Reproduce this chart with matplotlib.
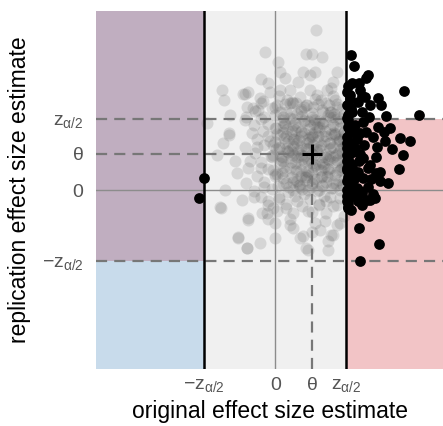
import numpy as np
import matplotlib
matplotlib.use("Agg")
import matplotlib.pyplot as plt

plt.rcParams['font.family'] = ['Liberation Sans', 'DejaVu Sans']
plt.rcParams['mathtext.fontset'] = 'custom'
plt.rcParams['mathtext.rm'] = 'Liberation Sans'
plt.rcParams['mathtext.it'] = 'Liberation Sans'

z = 1.96
theta = 1.0

# studies that were not significant in the original (grey cloud)
grey_x = [1.12, -0.28, 0.85, 1.00, 1.28, 0.08, 0.13, 0.27, 0.77, 0.96, 1.09, 1.69, 1.60,
          -0.39, -0.19, 0.63, -1.48, -1.41, -0.88, -0.74, -0.42, -0.15, -1.25, 0.13, 0.40,
          0.96, 1.42, 0.68, 1.14, 1.55, 1.64, -0.61, -0.47, -0.83, 0.31, 0.50, -0.83, -0.79,
          -1.89, -1.29, -1.43, -1.52, -0.74, -1.02, -0.79, -0.24, -0.01, 0.50, 0.77, 0.86,
          1.46, 1.23, 1.60, 1.78, -1.29, -1.61, -1.11, -1.06, -1.39, -0.93, -1.50, -0.74,
          -0.37, -1.02, -0.42, -0.79, -0.01, 0.40, 0.68, 1.00, 1.37, 1.55, 1.69, 1.46, 0.91,
          -0.05,
          -0.6, -0.5, -0.4, -0.3, -0.3, -0.2, -0.2, -0.1, 0.0, 0.0, 0.0, 0.1, 0.1, 0.2, 0.2,
          0.3, 0.3, 0.3, 0.4, 0.4, 0.4, 0.5, 0.5, 0.5, 0.6, 0.6, 0.6, 0.7, 0.7, 0.7, 0.8,
          0.8, 0.8, 0.9, 0.9, 0.9, 1.0, 1.0, 1.0, 1.0, 1.1, 1.1, 1.1, 1.2, 1.2, 1.2, 1.3,
          1.3, 1.3, 1.4, 1.4, 1.4, 1.5, 1.5, 1.5, 1.6, 1.6, 1.6, 1.7, 1.7, 1.7, 1.7, 1.8,
          1.8, 1.8, 1.8, 1.9, 1.9, 1.9, 1.9, 0.2, 0.6, 1.0, 1.4, 0.9, 1.2, -0.4, -0.7, -0.8,
          -0.6, 0.1, 1.6, 1.9, 1.5, 0.4, 1.1, -0.2,
          0.45, 0.75, 1.05, 1.35, 1.65, 0.55, 0.85, 1.15, 1.45, 1.75, 0.65, 0.95, 1.25,
          1.55, 1.85, 0.35, 0.15, -0.05, 0.25, 0.05,
          -0.35, 0.05, 0.45, 0.85, 1.25, 1.70,
          -0.55, -0.10, 0.30, 0.70, 1.05, 1.50, 1.85,
          -0.80, -0.40, 0.00, 0.40, 0.75, 1.10, 1.45, 1.80,
          -0.20, 0.20, 0.55, 0.95, 1.30, 1.65, 1.95,
          -0.65, -0.35, 0.05, 0.45, 0.80, 1.20, 1.55, 1.90,
          -0.50, -0.15, 0.25, 0.65, 1.00, 1.35, 1.75,
          -0.85, -0.30, 0.10, 0.50, 0.85, 1.25, 1.60, 1.95,
          -0.55, -0.05, 0.35, 0.70, 1.15, 1.50, 1.85,
          -0.40, 0.15, 0.55, 0.90, 1.30, 1.70,
          -0.75, -0.20, 0.25, 0.70, 1.05, 1.45, 1.90,
          -0.50, 0.00, 0.45, 0.85, 1.25, 1.65,
          -0.30, 0.20, 0.60, 1.00, 1.40, 1.85,
          -0.60, -0.10, 0.35, 0.75, 1.15, 1.55,
          -0.40, 0.10, 0.55, 0.95, 1.35, 1.80,
          -0.20, 0.30, 0.75, 1.20, 1.60,
          0.05, 0.50, 0.90, 1.40,
          0.62, 0.92, 1.22, 1.52, 1.82, 0.72, 1.02, 1.32, 1.62, 0.42, 0.82, 1.12, 1.42,
          1.72, 0.52, 0.32, 1.08, 1.38, 1.68, 0.98, 0.58, 1.88, 1.28, 0.78, 1.48, 1.78,
          0.18, 0.68, 1.18, 0.88, 1.58, 1.92, 0.28, 0.48, 1.08,
          0.08, 0.38, 0.68, 0.98, 1.28, 1.58, 1.88,
          0.22, 0.52, 0.82, 1.12, 1.42, 1.72,
          -0.05, 0.28, 0.58, 0.88, 1.18, 1.48, 1.78,
          0.12, 0.42, 0.72, 1.02, 1.32, 1.62, 1.92,
          -0.12, 0.18, 0.48, 0.78, 1.08, 1.38, 1.68,
          0.02, 0.32, 0.62, 0.92, 1.22, 1.52, 1.82,
          -0.02, 0.28, 0.58, 0.88, 1.18, 1.48, 1.78,
          0.12, 0.42, 0.72, 1.02, 1.32, 1.62, 1.92,
          0.02, 0.32, 0.62, 0.92, 1.22, 1.52,
          0.18, 0.48, 0.78, 1.08, 1.38, 1.68,
          0.12, 0.42, 0.72, 1.02, 1.32, 1.62,
          0.28, 0.58, 0.88, 1.18, 1.48]
grey_y = [4.40, 3.81, 3.76, 3.76, 3.67, 3.53, 3.26, 3.08, 3.26, 3.17, 3.26, 3.26, 2.98,
          3.05, 2.94, 2.98, 2.76, 2.48, 2.66, 2.71, 2.53, 2.71, 2.07, 2.76, 2.76,
          2.76, 2.76, 2.57, 2.62, 2.80, 2.48, 2.25, 2.21, 1.93, 2.48, 2.39, 2.66, 2.30,
          1.84, 1.57, 1.29, -0.45, -0.77, -1.29, -1.59, -0.63, -1.32, -1.04, -1.27, -1.59,
          -1.64, -1.09, -1.23, -0.91, 1.52, 0.97, 0.79, 0.47, 0.01, -0.27, -0.49, -0.82,
          -0.63, -1.32, -1.46, -1.59, -0.91, -0.95, -1.32, -1.14, -0.86, -1.23, -0.95, -1.41, -1.64,
          -0.49,
          1.8, 1.2, 0.6, 2.0, 0.1, 1.5, -0.3, 0.9, 2.3, 1.7, 0.4, 1.2, -0.2, 2.0, 0.8,
          1.5, 0.2, -0.5, 2.4, 1.1, 0.6, 1.8, 0.0, 1.4, 0.9, 2.1, -0.3, 1.6, 0.4, 1.2, 2.3,
          0.8, -0.1, 1.9, 1.4, 0.5, 2.0, 1.0, 0.2, -0.6, 1.6, 0.7, 2.5, 1.2, 0.0, 1.9, 0.9,
          2.2, 0.4, 1.5, -0.3, 1.0, 2.0, 0.6, 1.3, 1.8, 0.2, 0.9, 1.4, 2.3, -0.4, 0.5, 1.1,
          1.9, 0.0, 0.8, 1.6, 0.3, 2.1, -0.7, 1.6, 1.3, 1.5, 2.4, 0.0, -0.4, 2.4, 0.8, 0.2,
          -0.2, 2.6, 2.6, 1.2, -0.2, -0.8, -0.9, -0.8,
          1.05, 0.85, 1.25, 0.65, 1.55, 1.65, 0.35, 1.75, 0.85, 1.35, 0.15, 1.45, 0.55,
          2.15, 0.65, 1.35, 0.95, 1.25, 1.85, 0.45,
          2.45, 2.35, 2.42, 2.33, 2.48, 2.38,
          2.18, 2.25, 2.14, 2.22, 2.28, 2.16, 2.24,
          2.02, 1.95, 2.06, 1.98, 2.04, 1.93, 2.08, 1.99,
          1.82, 1.76, 1.85, 1.78, 1.84, 1.74, 1.81,
          1.58, 1.64, 1.55, 1.62, 1.57, 1.66, 1.54, 1.61,
          1.42, 1.36, 1.44, 1.38, 1.45, 1.35, 1.41,
          1.18, 1.24, 1.16, 1.22, 1.15, 1.25, 1.19, 1.23,
          1.03, 0.96, 1.04, 0.98, 1.05, 0.95, 1.02,
          0.78, 0.84, 0.76, 0.83, 0.77, 0.82,
          0.62, 0.57, 0.64, 0.56, 0.63, 0.58, 0.61,
          0.38, 0.44, 0.36, 0.42, 0.37, 0.43,
          0.22, 0.16, 0.24, 0.17, 0.23, 0.18,
          -0.02, 0.04, -0.04, 0.03, -0.03, 0.05,
          -0.18, -0.24, -0.16, -0.23, -0.17, -0.22,
          -0.42, -0.37, -0.44, -0.38, -0.43,
          -0.58, -0.63, -0.57, -0.62,
          1.05, 1.32, 0.72, 1.12, 0.58, 1.62, 0.48, 1.82, 1.52, 0.88, 0.28, 1.12, 0.38,
          1.02, 1.42, 1.08, 1.82, 1.62, 0.18, 0.82, 0.52, 1.42, 0.12, 1.92, 0.82, 1.72,
          0.48, 0.08, 1.48, 1.12, 2.02, 0.88, 1.82, 0.22, 0.32,
          0.12, 0.08, 0.15, 0.10, 0.14, 0.07, 0.13,
          0.33, 0.30, 0.36, 0.31, 0.35, 0.29,
          0.55, 0.52, 0.58, 0.53, 0.57, 0.51, 0.56,
          0.74, 0.77, 0.71, 0.76, 0.72, 0.78, 0.73,
          0.95, 0.92, 0.98, 0.93, 0.97, 0.91, 0.96,
          1.13, 1.16, 1.10, 1.15, 1.11, 1.17, 1.12,
          1.33, 1.30, 1.36, 1.31, 1.35, 1.29, 1.34,
          1.52, 1.55, 1.49, 1.54, 1.50, 1.56, 1.51,
          1.71, 1.68, 1.74, 1.69, 1.73, 1.67,
          1.93, 1.96, 1.90, 1.95, 1.91, 1.97,
          2.14, 2.11, 2.17, 2.12, 2.16, 2.10,
          2.36, 2.39, 2.33, 2.38, 2.34]

# studies significant in the original (black)
sig_x = [2.08, 2.17, 2.55, 2.50, 2.13, 2.01, 2.33, 3.55, 2.06, 2.47, 2.84, 2.29, 2.61,
         2.93, 2.10, 2.38, 3.07, 3.97, 2.01, 2.01, 2.42, 2.84, 3.16, 2.06, 2.33, 2.70,
         3.44, 3.73, 3.02, 1.97, 2.20, 3.21, 3.53, 2.79, 1.97, 2.42, 2.06, 2.61, 3.41,
         1.97, 2.29, 2.79, 2.01, 2.42, 2.88, 3.11, 2.06, 2.56, 1.97, 2.33, 2.06, 2.38,
         2.75, 2.52, 2.29, 2.01, 2.59, 2.31, 2.87, 2.35, 2.61, 2.01, 1.99,
         1.98, 2.05, 1.99, 2.12, 1.98, 2.20, 2.02, 2.15, 1.98, 2.25, 2.08, 1.97, 2.15,
         2.02, 2.30, 1.99, 2.12, 1.98, 2.20, 2.05, 1.97, 2.18, 2.05, 2.25, 1.98, 2.15,
         2.00, 2.10, 2.35, 2.45, 2.50, 2.60, 2.55, 2.65, 2.40, 2.70, 2.90, 2.80, 3.00,
         2.40, 2.30,
         -1.96, -2.12]
sig_y = [3.72, 3.42, 3.17, 3.09, 2.96, 2.87, 2.77, 2.73, 2.62, 2.57, 2.53, 2.43, 2.34,
         2.34, 2.25, 2.16, 2.04, 2.07, 2.07, 1.93, 1.88, 1.75, 1.70, 1.61, 1.57, 1.47,
         1.43, 1.36, 1.34, 1.29, 1.15, 1.13, 0.97, 0.92, 0.97, 0.88, 0.74, 0.70, 0.59,
         0.56, 0.51, 0.47, 0.37, 0.33, 0.24, 0.19, 0.19, 0.10, 0.01, -0.02, -0.04, -0.08,
         -0.22, -0.27, -0.31, -0.49, -0.71, -1.03, -1.48, -1.96, -0.27, -0.45, -0.30,
         2.70, 2.50, 2.35, 2.15, 1.98, 1.80, 1.75, 1.60, 1.45, 1.40, 1.30, 1.15, 1.05,
         0.90, 0.80, 0.80, 0.65, 0.60, 0.45, 0.45, 0.25, 0.30, 0.10, 0.05, -0.15, -0.15,
         -0.35, -0.55, 1.00, 1.25, 1.60, 2.00, 0.60, 0.30, -0.40, -0.10, 0.50, 1.20, 1.60,
         2.60, 2.95,
         0.33, -0.22]

xmin, xmax = -4.95, 4.63
ymin, ymax = -4.92, 4.93

fig = plt.figure(figsize=(4.43, 4.26), dpi=100)
ax = fig.add_axes([96 / 443, 57 / 426, 347 / 443, 358 / 426])
ax.set_xlim(xmin, xmax)
ax.set_ylim(ymin, ymax)

# background regions
ax.fill_between([xmin, -z], -z, ymax, color='#c0aec0', lw=0, zorder=0)
ax.fill_between([xmin, -z], ymin, -z, color='#c8dbeb', lw=0, zorder=0)
ax.fill_between([-z, z], ymin, ymax, color='#f0f0f0', lw=0, zorder=0)
ax.fill_between([z, xmax], ymin, z, color='#f2c4c6', lw=0, zorder=0)

ax.scatter(grey_x, grey_y, s=75, color='#555555', alpha=0.17, lw=0, zorder=1)

ax.axhline(0, color='#8c8c8c', lw=1, zorder=2)
ax.axvline(0, color='#8c8c8c', lw=1, zorder=2)
dash = dict(color='#777777', lw=1.6, ls=(0, (5, 3.2)), zorder=2)
ax.plot([xmin, xmax], [z, z], **dash)
ax.plot([xmin, xmax], [-z, -z], **dash)
ax.plot([xmin, theta], [theta, theta], **dash)
ax.plot([theta, theta], [ymin, theta], **dash)
ax.axvline(-z, color='black', lw=1.8, zorder=3)
ax.axvline(z, color='black', lw=1.8, zorder=3)

ax.scatter(sig_x, sig_y, s=60, color='black', lw=0, zorder=4)
ax.plot([theta], [theta], marker='+', ms=15, mew=2.2, color='black', zorder=5)

ax.set_xticks([-z, 0, theta, z])
ax.set_xticklabels([r'$-z_{\alpha/2}$', '0', r'$\theta$', r'$z_{\alpha/2}$'])
ax.set_yticks([z, theta, 0, -z])
ax.set_yticklabels([r'$z_{\alpha/2}$', r'$\theta$', '0', r'$-z_{\alpha/2}$'])
ax.tick_params(length=0, labelsize=14, labelcolor='#555555')
ax.tick_params(axis='x', pad=6)
ax.tick_params(axis='y', pad=9)
for s in ax.spines.values():
    s.set_visible(False)
ax.set_xlabel('original effect size estimate', fontsize=16.5, labelpad=4)
ax.set_ylabel('replication effect size estimate', fontsize=16.5, labelpad=8)

fig.savefig('out.png', dpi=100)
